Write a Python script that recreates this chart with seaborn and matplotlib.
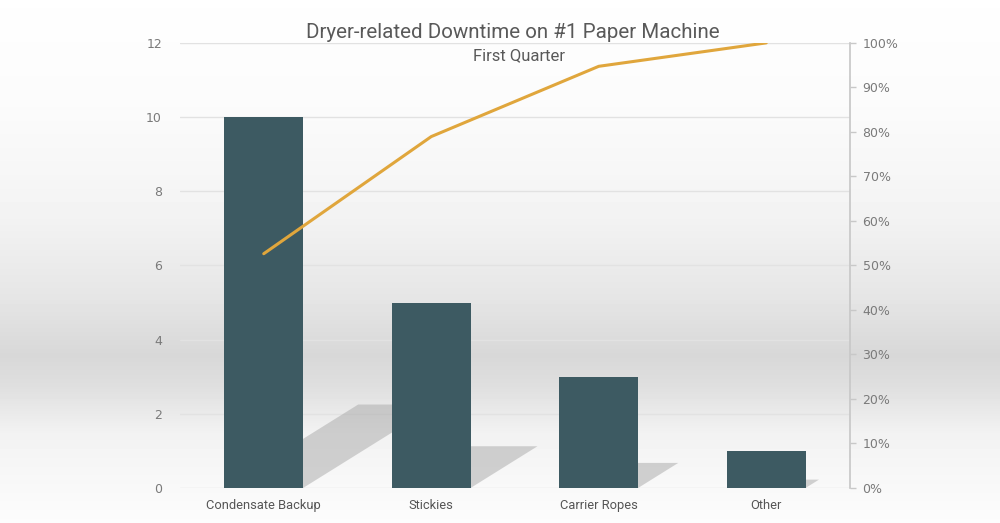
import matplotlib
matplotlib.use("Agg")
import matplotlib.pyplot as plt
import numpy as np
import pandas as pd
import seaborn as sns

# data
causes = ["Condensate Backup", "Stickies", "Carrier Ropes", "Other"]
downtime = [10, 5, 3, 1]
count_ticks = [0, 2, 4, 6, 8, 10, 12]
pct_ticks = [0, 10, 20, 30, 40, 50, 60, 70, 80, 90, 100]

df = pd.DataFrame({"cause": causes, "downtime": downtime})
df["pos"] = np.arange(len(df))
df["cum_pct"] = df.downtime.cumsum() / df.downtime.sum() * 100

sns.set_theme(style="white")
plt.rcParams["font.family"] = ["DejaVu Sans"]
narrow = ["Roboto", "DejaVu Sans"]

fig = plt.figure(figsize=(10, 5.23), dpi=100)

# soft grey backdrop, darkest band a bit below the middle
bg = fig.add_axes([0, 0, 1, 1], zorder=-10)
yy = np.linspace(0, 1, 523)
shade = np.interp(yy, [0, 0.2, 0.4, 0.57, 0.68, 0.74, 0.83, 1.0],
                  [0.997, 0.985, 0.955, 0.9, 0.845, 0.875, 0.95, 0.99])
bg.imshow(np.repeat(shade[:, None], 2, axis=1), cmap="gray", vmin=0, vmax=1,
          aspect="auto", extent=[0, 1, 0, 1])
bg.axis("off")

ax = fig.add_axes([0.18, 0.067, 0.67, 0.851])
ax.patch.set_alpha(0)

bar_w = 0.47
# floor shadows, skewed to the right
for p, v in zip(df.pos, df.downtime):
    h = 0.225 * v
    s = 0.355 * h
    ax.fill([p - bar_w / 2, p + bar_w / 2, p + bar_w / 2 + s, p - bar_w / 2 + s],
            [0, 0, h, h], color="#a8a8a8", alpha=0.5, lw=0, zorder=2)

sns.barplot(data=df, x="cause", y="downtime", color="#3d5a62", saturation=1,
            width=bar_w, ax=ax, zorder=3, linewidth=0, edgecolor="none")

ax.set_xlim(-0.5, 3.5)
ax.set_ylim(0, 12)
ax.set_yticks(count_ticks)
ax.yaxis.grid(True, color="#e2e2e2", lw=1)
ax.set_axisbelow(True)
ax.set_xlabel("")
ax.set_ylabel("")
for sp in ax.spines.values():
    sp.set_visible(False)
ax.tick_params(axis="y", length=0, pad=13, labelsize=9, labelcolor="#7a7a7a")
ax.tick_params(axis="x", length=0, pad=8)
for lab in ax.get_xticklabels():
    lab.set_family(narrow)
    lab.set_fontsize(9.3)
    lab.set_color("#555555")

ax2 = ax.twinx()
sns.lineplot(data=df, x="pos", y="cum_pct", ax=ax2, color="#e0a63c", lw=2.2,
             zorder=4)
ax2.set_ylim(0, 100)
ax2.set_yticks(pct_ticks)
ax2.set_yticklabels([f"{t}%" for t in pct_ticks])
ax2.set_xlim(-0.5, 3.5)
ax2.set_ylabel("")
ax2.set_xlabel("")
for name, sp in ax2.spines.items():
    sp.set_visible(name == "right")
ax2.spines["right"].set_color("#c8c8c8")
ax2.tick_params(axis="y", length=4, width=1, color="#c8c8c8", pad=5,
                labelsize=9, labelcolor="#7a7a7a", direction="out")

fig.text(0.513, 0.937, "Dryer-related Downtime on #1 Paper Machine",
         ha="center", va="center", fontsize=14.8, color="#595959", family=narrow)
fig.text(0.519, 0.893, "First Quarter", ha="center", va="center",
         fontsize=12, color="#595959", family=narrow)

fig.savefig("out.png", dpi=100)
